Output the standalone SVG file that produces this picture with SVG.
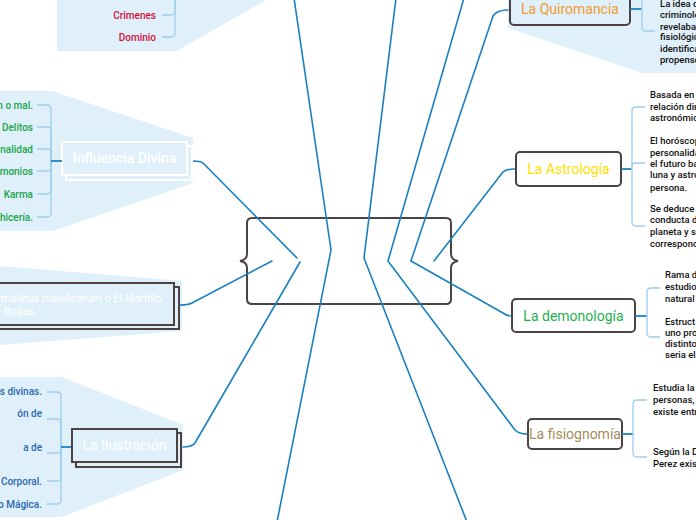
<svg xmlns="http://www.w3.org/2000/svg" width="696" height="520" viewBox="0 0 696 520">
<style>
.panel{fill:#dff0fa;stroke:none}
.con{fill:none;stroke:#1a80c2;stroke-width:1.6;stroke-linecap:round;stroke-linejoin:round}
.brk{fill:none;stroke:#9fcdea;stroke-width:1.3}
.stub{fill:none;stroke:#1f82c3;stroke-width:1.8}
.dark{fill:#fff;stroke:#4d4242;stroke-width:2}
.darkb{fill:#dff0fa;stroke:#4d4242;stroke-width:2}
.wht{fill:#dff0fa;stroke:#ffffff;stroke-width:2}
text{font-family:Roboto,"Liberation Sans",sans-serif}
.t{font-size:14px;text-anchor:middle}
.c{font-size:10px;text-anchor:end;font-weight:500}
.b{font-size:9.5px;fill:#111;font-weight:500}
.w{fill:#ffffff}
</style>

<g id="panels">
<polygon class="panel" points="57,0 266,0 177,51 57,51"/>
<polygon class="panel" points="0,91 52,91 193,138 193,183 53,231 0,231"/>
<polygon class="panel" points="0,266 182,281 182,331 0,345"/>
<polygon class="panel" points="0,377 62,377 183,425 183,470 62,517 0,517"/>
<polygon class="panel" points="508,0 696,0 696,73 642,73 508,28"/>
</g>

<g id="central">
<path class="dark" stroke-width="2.5" d="M252,218 H446 Q451,218 451,223 V254 Q451,260 458,261 Q451,262 451,268 V299 Q451,304 446,304 H252 Q247,304 247,299 V268 Q247,262 240,261 Q247,260 247,254 V223 Q247,218 252,218 Z"/>
</g>

<g id="connectors">
<path class="con" d="M297,258 L203,163 Q200,161 193,161"/>
<path class="con" d="M272,261 L192,303 Q188,305 180,305"/>
<path class="con" d="M300,262 L195,443 Q192,447 183,447"/>
<path class="con" d="M294,-2 L331,250 L277,522"/>
<path class="con" d="M396,-2 L364,258 L467,522"/>
<path class="con" d="M464,-2 L388,261 L515,430 Q519,434 527,434"/>
<path class="con" d="M411,261 L493,16 Q497,10 508,10"/>
<path class="con" d="M411,261 L503,313 Q507,316 512,316"/>
<path class="con" d="M434,261 L503,172 Q506,169 515,169"/>
</g>

<g id="top-left">
<path class="brk" d="M162,15 H171 Q175,15 175,11 V-2"/>
<path class="brk" d="M162,37 H171 Q175,37 175,33 V-2"/>
<text class="c" x="156" y="18.5" fill="#d0103a">Crimenes</text>
<text class="c" x="156" y="40.5" fill="#d0103a">Dominio</text>
</g>

<g id="influencia-divina">
<rect class="wht" x="66" y="146" width="126" height="34"/>
<rect class="wht" x="62" y="142" width="125" height="33"/>
<text class="t w" x="124.5" y="163" font-size="13.5" font-weight="500">Influencia Divina</text>
<path class="brk" d="M37,105 H47 Q51,105 51,109 V161"/>
<path class="brk" d="M37,127 H47 Q51,127 51,131 V161"/>
<path class="brk" d="M37,149 H47 Q51,149 51,153 V161"/>
<path class="brk" d="M37,171 H47 Q51,171 51,167 V161"/>
<path class="brk" d="M37,194 H47 Q51,194 51,190 V161"/>
<path class="brk" d="M37,217 H47 Q51,217 51,213 V161"/>
<path class="stub" d="M51,161 H62"/>
<g fill="#17a54a">
<text class="c" x="33" y="108.5">n o mal.</text>
<text class="c" x="33" y="130.5">e Delitos</text>
<text class="c" x="33" y="152.5">inalidad</text>
<text class="c" x="33" y="174.5">emonios</text>
<text class="c" x="33" y="197.5">Karma</text>
<text class="c" x="33" y="220.5">chicería.</text>
</g>
</g>

<g id="malleus">
<rect class="darkb" x="-10" y="287" width="189" height="42"/>
<rect class="darkb" x="-14" y="283" width="188" height="42"/>
<text class="w" x="1" y="301.5" font-size="10.8">malleus maleficarum o El Martillo</text>
<text class="w" x="4" y="314.5" font-size="10.8">Brujas.</text>
</g>

<g id="la-ilustracion">
<path class="brk" d="M47,392 H57 Q61,392 61,396 V447"/>
<path class="brk" d="M47,419 H57 Q61,419 61,423 V447"/>
<path class="brk" d="M47,453 H57 Q61,453 61,449 V447"/>
<path class="brk" d="M47,481 H57 Q61,481 61,477 V447"/>
<path class="brk" d="M47,504 H57 Q61,504 61,500 V447"/>
<path class="stub" d="M61,447 H72"/>
<rect class="darkb" x="76" y="433" width="105" height="34"/>
<rect class="darkb" x="72" y="429" width="105" height="33"/>
<text class="t w" x="124.5" y="450">La Ilustración</text>
<g fill="#2a68b3">
<text class="c" x="42" y="394.5">es divinas.</text>
<text class="c" x="42" y="416.5">ón de</text>
<text class="c" x="42" y="450.5">a de</text>
<text class="c" x="42" y="484.5">o Corporal.</text>
<text class="c" x="42" y="507.5">o Mágica.</text>
</g>
</g>

<g id="la-quiromancia">
<rect class="darkb" x="510" y="-8" width="120" height="33" rx="4"/>
<text class="t" x="570" y="14" fill="#f39a2e">La Quiromancia</text>
<path class="stub" d="M630,9 H642"/>
<path class="brk" d="M642,-20 V27 Q642,31 646,31 H655"/>
<text class="b" x="660" y="6.7">La idea d</text>
<text class="b" x="660" y="18.3">criminolo</text>
<text class="b" x="660" y="29.5">revelaba</text>
<text class="b" x="660" y="40.3">fisiológic</text>
<text class="b" x="660" y="51.7">identifica</text>
<text class="b" x="660" y="63.3">propenso</text>
</g>

<g id="la-astrologia">
<rect class="dark" x="516" y="152" width="105" height="34" rx="4"/>
<text class="t" x="568.5" y="174" fill="#ffdf00">La Astrología</text>
<path class="stub" d="M621,169 H632"/>
<path class="brk" d="M632,169 V111 Q632,107 636,107 H645"/>
<path class="brk" d="M632,169 V166 Q632,163 635,163 H645"/>
<path class="brk" d="M632,169 V222 Q632,226 636,226 H645"/>
<text class="b" x="650" y="98.3">Basada en</text>
<text class="b" x="650" y="109.5">relación dir</text>
<text class="b" x="650" y="120.6">astronómic</text>
<text class="b" x="650" y="144.3">El horóscop</text>
<text class="b" x="650" y="155.5">personalida</text>
<text class="b" x="650" y="166.5">el futuro ba</text>
<text class="b" x="650" y="178">luna y astro</text>
<text class="b" x="650" y="190.5">persona.</text>
<text class="b" x="650" y="211.6">Se deduce</text>
<text class="b" x="650" y="223.3">conducta d</text>
<text class="b" x="650" y="235">planeta y s</text>
<text class="b" x="650" y="246.6">correspond</text>
</g>

<g id="la-demonologia">
<rect class="dark" x="512" y="299" width="123" height="33" rx="4"/>
<text class="t" x="573.5" y="321" fill="#1fb14f">La demonología</text>
<path class="stub" d="M635,316 H647"/>
<path class="brk" d="M647,316 V292 Q647,288 651,288 H660"/>
<path class="brk" d="M647,316 V333 Q647,337 651,337 H660"/>
<text class="b" x="665" y="278.3">Rama d</text>
<text class="b" x="665" y="290">estudio</text>
<text class="b" x="665" y="301.6">natural d</text>
<text class="b" x="665" y="325">Estruct</text>
<text class="b" x="665" y="336">uno pro</text>
<text class="b" x="665" y="346.6">distinto</text>
<text class="b" x="665" y="358.3">seria el</text>
</g>

<g id="la-fisiognomia">
<rect class="dark" x="528" y="419" width="94" height="30" rx="4"/>
<text class="t" x="575" y="438.5" font-size="12" fill="#a58c5b">La fisiognomía</text>
<path class="stub" d="M622,434 H633"/>
<path class="brk" d="M633,434 V404 Q633,400 637,400 H647"/>
<path class="brk" d="M633,434 V453 Q633,457 637,457 H647"/>
<text class="b" x="653" y="390.6">Estudia la</text>
<text class="b" x="653" y="402.6">personas,</text>
<text class="b" x="653" y="415">existe entr</text>
<text class="b" x="653" y="455">Según la D</text>
<text class="b" x="653" y="466.6">Perez exist</text>
</g>
</svg>
